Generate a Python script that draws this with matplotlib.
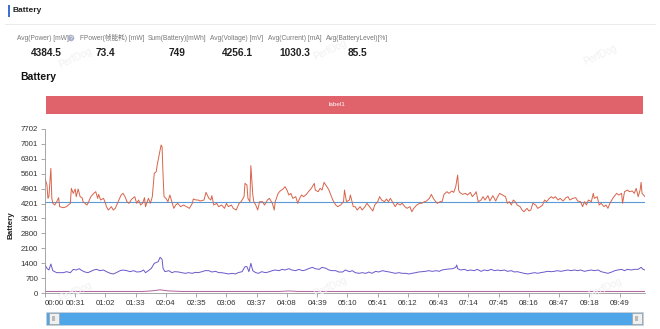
"""
PerfDog style battery panel: header stats, label banner, power/current lines and slider.
"""
import matplotlib
matplotlib.use("Agg")
import matplotlib.pyplot as plt
from matplotlib.patches import Rectangle

plt.rcParams["font.family"] = ["Liberation Sans", "Noto Sans CJK SC", "DejaVu Sans"]

# header stats
stat_names = ["Avg(Power) [mW]", "FPower(帧能耗) [mW]", "Sum(Battery)[mWh]",
              "Avg(Voltage) [mV]", "Avg(Current) [mA]", "Avg(BatteryLevel)[%]"]
stat_values = ["4384.5", "73.4", "749", "4256.1", "1030.3", "85.5"]

# power (mW), time in seconds
power_sec = [0, 2, 3, 4, 6, 7, 8, 10, 12, 14,
             15, 19, 22, 26, 27, 29, 31, 32, 34, 36,
             38, 39, 43, 44, 47, 50, 52, 54, 55, 57,
             60, 62, 63, 65, 68, 70, 72, 75, 78, 80,
             82, 84, 86, 89, 92, 94, 96, 98, 100, 102,
             103, 106, 108, 110, 112, 114, 115, 117, 119, 120,
             121, 122, 124, 126, 128, 130, 132, 134, 136, 139,
             142, 145, 148, 151, 152, 155, 157, 159, 163, 165,
             168, 170, 171, 173, 176, 178, 181, 184, 186, 188,
             191, 193, 196, 199, 201, 204, 205, 207, 208, 210,
             211, 213, 214, 216, 218, 220, 223, 225, 228, 230,
             233, 235, 236, 239, 241, 244, 246, 248, 250, 252,
             254, 257, 259, 261, 263, 265, 268, 270, 273, 276,
             277, 280, 282, 284, 286, 289, 291, 293, 295, 298,
             300, 303, 306, 307, 309, 312, 313, 316, 318, 320,
             323, 325, 328, 330, 334, 336, 338, 341, 343, 345,
             348, 350, 352, 354, 357, 359, 361, 364, 366, 369,
             371, 374, 376, 378, 381, 384, 386, 389, 391, 394,
             396, 398, 400, 402, 405, 407, 409, 412, 414, 417,
             419, 421, 423, 424, 425, 428, 431, 433, 436, 438,
             441, 442, 444, 447, 449, 451, 454, 456, 459, 462,
             464, 466, 469, 472, 474, 476, 478, 480, 482, 484,
             487, 489, 491, 494, 496, 498, 500, 503, 505, 508,
             510, 512, 514, 517, 519, 521, 523, 526, 528, 531,
             534, 536, 538, 541, 544, 546, 549, 551, 553, 555,
             557, 560, 562, 563, 566, 568, 570, 573, 575, 577,
             579, 582, 584, 586, 588, 591, 592, 594, 597, 599,
             602, 604, 606, 608, 610, 611, 612, 615]
power_mw = [5385, 5072, 4445, 4524, 5854, 4445, 4211, 4132, 4289, 4477,
            4054, 4007, 4054, 4211, 4915, 4680, 4884, 4524, 4884, 4524,
            4477, 4289, 4132, 4211, 4524, 4680, 4759, 4445, 4633, 4367,
            4445, 4211, 4054, 3898, 4054, 3898, 3976, 4289, 4602, 4680,
            4524, 4289, 4211, 4414, 4524, 4211, 4367, 4132, 4211, 4477,
            4054, 4445, 4211, 4524, 5620, 5698, 6011, 6480, 6950, 6872,
            5541, 4524, 4445, 4289, 4602, 4289, 3976, 4132, 4211, 4054,
            4132, 4054, 3976, 4211, 4414, 4367, 4367, 4320, 4367, 4727,
            4445, 4367, 4571, 4132, 4211, 4054, 4132, 3976, 4211, 4054,
            4132, 3976, 3898, 4211, 4289, 4524, 5150, 5072, 4445, 4289,
            5980, 4602, 4289, 4132, 3898, 4289, 4289, 4132, 4367, 4445,
            4211, 3898, 4289, 4680, 4790, 4884, 4993, 4837, 4602, 4680,
            4445, 4524, 4211, 4445, 4602, 4524, 4633, 4759, 4915, 5150,
            4837, 4759, 4915, 4837, 5197, 4993, 4837, 4602, 4367, 4132,
            4054, 4132, 4289, 4837, 4289, 4367, 4602, 4054, 4054, 3898,
            4054, 3898, 4054, 4211, 3976, 3851, 4132, 4289, 4524, 4367,
            4289, 4414, 4289, 4445, 4211, 4054, 4211, 4132, 4211, 4054,
            3976, 4054, 3819, 3976, 4132, 4211, 4211, 4289, 4320, 4445,
            4633, 4445, 4320, 4211, 4289, 4289, 4633, 4759, 4680, 4790,
            4727, 4993, 5541, 4837, 4727, 4633, 4680, 4602, 4727, 4524,
            4680, 4759, 4289, 4367, 4524, 4367, 4571, 4320, 4571, 4320,
            4524, 4680, 4602, 4524, 4211, 4289, 4132, 4367, 4289, 4132,
            4054, 3898, 3819, 3976, 3851, 3898, 4211, 4132, 3976, 4054,
            4132, 4367, 4289, 4445, 4524, 4445, 4524, 4367, 4445, 4320,
            4477, 4524, 4367, 4445, 4477, 4320, 4289, 4054, 4289, 4132,
            4367, 4289, 4680, 4445, 4524, 4132, 4211, 4054, 4132, 3976,
            4211, 4445, 4571, 4680, 4602, 4680, 4211, 4759, 4837, 4759,
            4790, 4680, 4915, 4524, 4837, 5197, 4680, 4524]

# current (mA), purple line
current_sec = [0, 2, 4, 6, 8, 12, 15, 19, 22, 26,
               29, 32, 35, 38, 41, 44, 50, 53, 56, 60,
               63, 67, 70, 73, 77, 80, 84, 87, 91, 94,
               98, 101, 103, 106, 109, 112, 116, 118, 120, 121,
               123, 127, 130, 133, 137, 140, 144, 147, 151, 154,
               157, 161, 164, 168, 171, 175, 178, 181, 185, 188,
               192, 195, 198, 202, 205, 207, 209, 211, 213, 216,
               219, 222, 226, 229, 233, 236, 240, 243, 246, 250,
               253, 257, 260, 264, 267, 270, 274, 277, 281, 284,
               288, 291, 294, 298, 301, 305, 308, 312, 315, 318,
               322, 325, 329, 332, 335, 339, 342, 346, 349, 353,
               356, 359, 363, 366, 370, 373, 376, 380, 383, 387,
               390, 393, 397, 401, 404, 407, 411, 414, 418, 421,
               422, 423, 426, 430, 433, 436, 440, 443, 447, 450,
               454, 457, 461, 464, 467, 471, 474, 478, 481, 484,
               488, 491, 495, 498, 502, 505, 508, 512, 515, 519,
               522, 525, 529, 532, 536, 539, 543, 546, 549, 553,
               556, 560, 563, 567, 570, 574, 577, 581, 584, 587,
               591, 594, 597, 601, 604, 608, 611, 613, 615]
current_ma = [1315, 1158, 1080, 1362, 1049, 955, 955, 955, 1002, 955,
              1111, 1080, 1142, 1049, 986, 955, 1080, 1111, 1049, 1080,
              1002, 924, 893, 955, 1049, 1080, 1049, 1002, 1049, 986,
              1002, 1080, 955, 1049, 1158, 1393, 1471, 1675, 1581, 1158,
              1002, 1049, 955, 1002, 986, 955, 924, 955, 924, 970,
              955, 1002, 1049, 1049, 986, 1017, 955, 955, 924, 893,
              924, 893, 955, 1002, 1236, 1236, 1002, 1393, 1049, 955,
              924, 1002, 955, 986, 1049, 1080, 1049, 1111, 1080, 1142,
              1080, 1049, 1111, 1049, 1080, 1142, 1205, 1142, 1111, 1205,
              1158, 1080, 1049, 1049, 986, 986, 1080, 1002, 1049, 955,
              924, 955, 924, 986, 924, 1017, 986, 1049, 1017, 986,
              955, 924, 955, 924, 924, 893, 924, 955, 986, 1002,
              1017, 1049, 1017, 1049, 1017, 1080, 1111, 1127, 1142, 1205,
              1315, 1142, 1080, 1111, 1049, 1080, 1049, 1111, 1017, 1080,
              1049, 1111, 1049, 1080, 1049, 1080, 1017, 1049, 986, 1002,
              955, 924, 893, 924, 955, 924, 955, 986, 1017, 1002,
              1017, 1049, 1017, 1049, 1080, 1049, 1080, 1049, 1080, 1017,
              1049, 1080, 1049, 1080, 1002, 955, 924, 986, 1049, 1080,
              1111, 1049, 1111, 1080, 1111, 1111, 1205, 1111, 1080]

# frame power (bottom pink line) and average voltage (flat blue line)
fpower_sec = [0, 100, 110, 118, 126, 140, 240, 250, 260, 615]
fpower_mw = [73, 73, 100, 150, 100, 73, 73, 95, 73, 73]
voltage_sec = [0, 615]
voltage_mv = [4256.1, 4256.1]

ytick_vals = [0, 700, 1400, 2100, 2800, 3501, 4201, 4901, 5601, 6301, 7001, 7702]
xtick_labels = ["00:00", "00:31", "01:02", "01:33", "02:04", "02:35", "03:06",
                "03:37", "04:08", "04:39", "05:10", "05:41", "06:12", "06:43",
                "07:14", "07:45", "08:16", "08:47", "09:18", "09:49"]

W, H = 660, 329


def fx(x):
    return x / W


def fy(y):
    return 1 - y / H


fig = plt.figure(figsize=(W / 100, H / 100), dpi=100)

# page header
fig.add_artist(Rectangle((fx(8), fy(17)), 2 / W, 12 / H, transform=fig.transFigure,
                         facecolor="#3d6fd6", edgecolor="none"))
fig.text(fx(13), fy(11), "Battery", fontsize=6, fontweight="bold", color="#222",
         va="center")
fig.add_artist(plt.Line2D([fx(5), fx(655)], [fy(24), fy(24)], color="#e6e6e6", lw=0.6))

label_x = [43, 112, 177, 237, 295, 357]
value_x = [46, 105, 177, 237, 295, 357]
for name, val, lx, vx in zip(stat_names, stat_values, label_x, value_x):
    fig.text(fx(lx), fy(38), name, fontsize=4.8, color="#777", ha="center", va="center")
    fig.text(fx(vx), fy(53), val, fontsize=7.3, fontweight="bold", color="#222",
             ha="center", va="center")
fig.text(fx(71), fy(38), "?", fontsize=3.8, color="white", ha="center", va="center",
         bbox=dict(boxstyle="circle,pad=0.15", facecolor="#aab2c8", edgecolor="none"))

# faint watermarks
for wx, wy in [(75, 58), (330, 50), (600, 55), (75, 292), (330, 287), (605, 288)]:
    fig.text(fx(wx), fy(wy), "PerfDog", fontsize=7, color="#f1f1f1", rotation=25,
             ha="center", va="center", zorder=0)

fig.text(fx(20), fy(77), "Battery", fontsize=7.5, fontweight="bold", color="#111",
         va="center")

# label banner
fig.add_artist(Rectangle((fx(46), fy(114)), 597 / W, 18 / H, transform=fig.transFigure,
                         facecolor="#e0626a", edgecolor="none"))
fig.text(fx(337), fy(105), "label1", fontsize=4.5, color="white", ha="center", va="center")

# main chart
ax = fig.add_axes([fx(45), fy(293), 600 / W, (293 - 129) / H])
ax.plot(voltage_sec, voltage_mv, color="#5b9bd8", lw=0.8)
ax.plot(power_sec, power_mw, color="#d8634a", lw=0.7)
ax.plot(current_sec, current_ma, color="#6a58cc", lw=0.7)
ax.plot(fpower_sec, fpower_mw, color="#b0609c", lw=0.7)

ax.set_xlim(0, 615)
ax.set_ylim(0, 7702)
ax.set_yticks(ytick_vals)
ax.set_yticklabels([str(v) for v in ytick_vals])
xtick_pos = [int(s[:2]) * 60 + int(s[3:]) for s in xtick_labels]
ax.set_xticks(xtick_pos)
ax.set_xticklabels(xtick_labels)
ax.get_xticklabels()[0].set_ha("left")
ax.tick_params(labelsize=5.7, labelcolor="#333", color="#999", length=3, width=0.6,
               pad=2)
for side in ["top", "right"]:
    ax.spines[side].set_visible(False)
for side in ["left", "bottom"]:
    ax.spines[side].set_color("#999")
    ax.spines[side].set_linewidth(0.6)
fig.text(fx(11), fy(225), "Battery", fontsize=5.8, fontweight="bold", color="#222",
         rotation=90, ha="center", va="center")

# zoom slider
fig.add_artist(Rectangle((fx(46), fy(325)), 597 / W, 13 / H, transform=fig.transFigure,
                         facecolor="#4ea6e8", edgecolor="#d0d0d0", lw=0.5))
for hx in [49, 632]:
    fig.add_artist(Rectangle((fx(hx), fy(324)), 10 / W, 11 / H, transform=fig.transFigure,
                             facecolor="#f0f0f0", edgecolor="#a0a0a0", lw=0.5))
    fig.text(fx(hx + 5), fy(318.5), "|||", fontsize=4, color="#888", ha="center",
             va="center")

fig.savefig("out.png", dpi=100)
